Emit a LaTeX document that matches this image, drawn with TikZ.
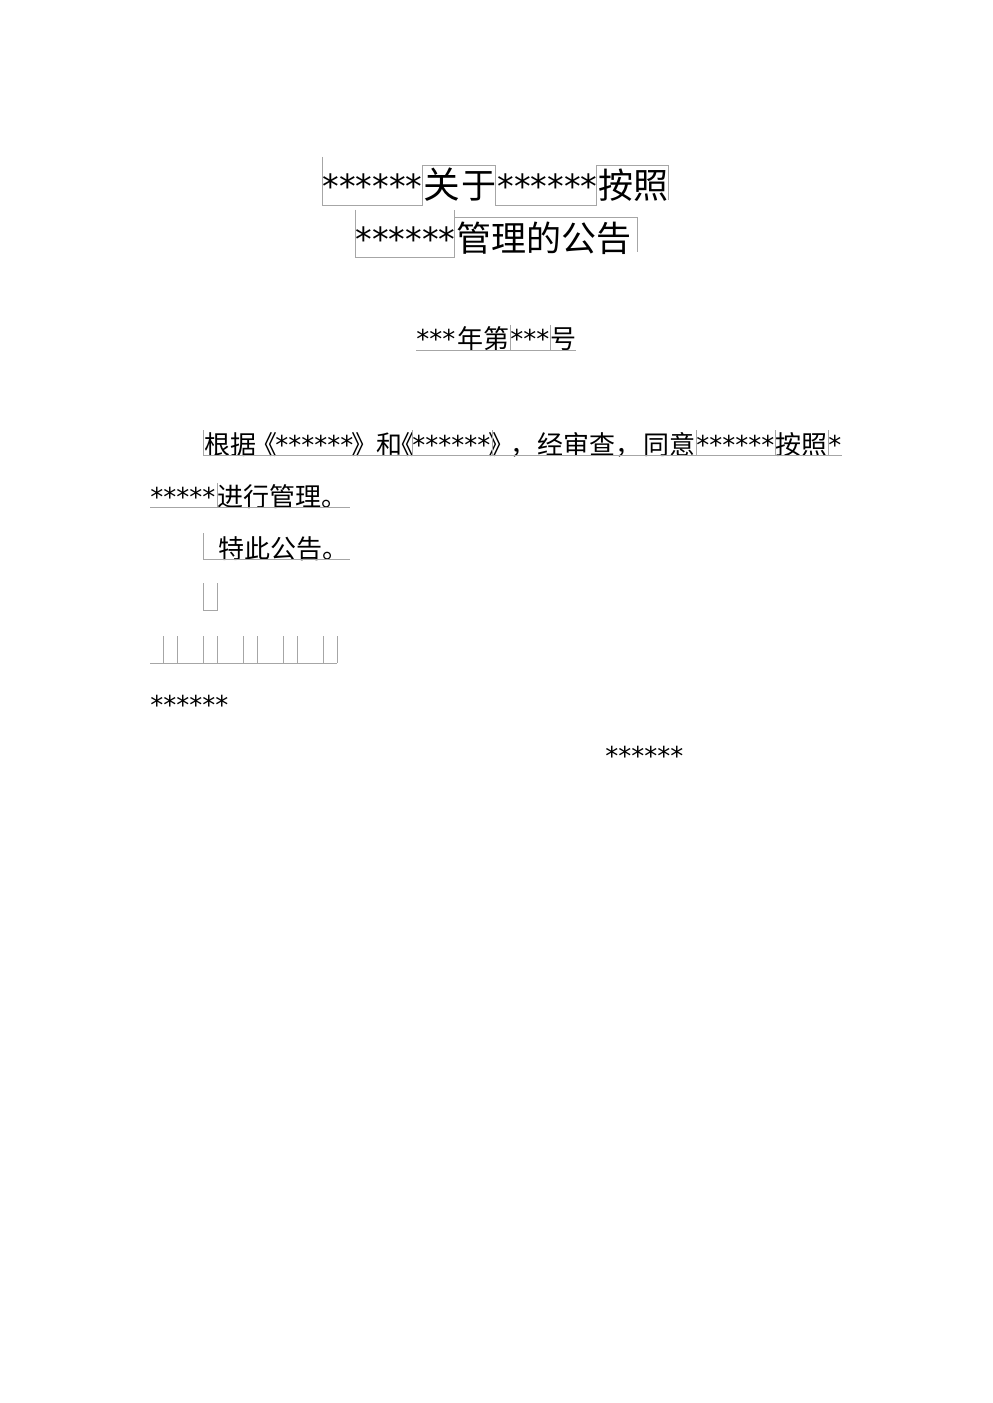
\documentclass[tikz,border=0pt]{standalone}
\usepackage{fontspec}
\setmainfont{DejaVu Sans}
\newfontfamily\cjk{Noto Sans CJK SC}
\newcommand\headsz{\fontsize{20pt}{24pt}\selectfont}
\newcommand\bodysz{\fontsize{15.6pt}{18pt}\selectfont}
\begin{document}
\begin{tikzpicture}
[x=0.6pt,y=-0.6pt,every node/.style={inner sep=0,anchor=base west,font=\bodysz},
 fld/.style={draw=black!35,line width=0.5pt}]
   \useasboundingbox[fill=white] (0,0) rectangle (992,1403);
   \node[font=\headsz] (h_1) at (322,199) {******};
   \node[font=\fontsize{22pt}{24pt}\selectfont\cjk] (h_2) at (423,199) {关};
   \node[font=\fontsize{21pt}{24pt}\selectfont\cjk] (h_3) at (461,199) {于};
   \node[font=\headsz] (h_4) at (497,199) {******};
   \node[font=\fontsize{21pt}{24pt}\selectfont\cjk] (h_5) at (598,199) {按照};
   \node[font=\headsz] (h_6) at (355,252) {******};
   \node[font=\fontsize{21pt}{24pt}\selectfont\cjk] (h_7) at (456,252) {管理的公告};
   \node (n_1) at (416,349) {***};
   \node[font=\bodysz\cjk] (n_2) at (457,349) {年第};
   \node (n_3) at (510,349) {***};
   \node[font=\bodysz\cjk] (n_4) at (550,349) {号};
   \node[font=\bodysz\cjk] (p_1) at (204,454) {根据};
   \node[font=\bodysz\cjk] (p_2) at (251,454) {《};
   \node (p_3) at (275,454) {******};
   \node[font=\bodysz\cjk] (p_4) at (351,454) {》};
   \node[font=\bodysz\cjk] (p_5) at (376,454) {和};
   \node[font=\bodysz\cjk] (p_6) at (388,454) {《};
   \node (p_7) at (412,454) {******};
   \node[font=\bodysz\cjk] (p_8) at (488,454) {》};
   \node[font=\bodysz\cjk] (p_9) at (510,454) {，};
   \node[font=\bodysz\cjk] (p_10) at (537,454) {经审查};
   \node[font=\bodysz\cjk] (p_11) at (615,454) {，};
   \node[font=\bodysz\cjk] (p_12) at (643,454) {同意};
   \node (p_13) at (696,454) {******};
   \node[font=\bodysz\cjk] (p_14) at (775,454) {按照};
   \node (p_15) at (828,454) {*};
   \node (p_16) at (150,506) {*****};
   \node[font=\bodysz\cjk] (p_17) at (217,506) {进行管理。};
   \node[font=\bodysz\cjk] (s_1) at (218,558) {特此公告。};
   \node (s_2) at (150,714) {******};
   \node (s_3) at (605,765) {******};
   \draw[fld] (322,157) -- (322,205) -- (422,205) -- (422,165) -- (495,165) -- (495,205)
     -- (596,205) -- (596,165) -- (668,165) -- (668,200);
   \draw[fld] (355,210) -- (355,257) -- (454,257) -- (454,210);
   \draw[fld] (454,217) -- (637,217) -- (637,252);
   \draw[fld] (416,350) -- (576,350) (510,325) -- (510,350) (550,325) -- (550,350);
   \draw[fld] (203,430) -- (203,455) -- (842,455);
   \foreach \x in {412,492,696,775,828}
     \draw[fld] (\x,430) -- (\x,455);
   \draw[fld] (150,507) -- (350,507) (217,483) -- (217,507);
   \draw[fld] (203,533) -- (203,559) -- (350,559);
   \draw[fld] (203,583) -- (203,610) -- (217,610) -- (217,583);
   \draw[fld] (150,663) -- (337,663);
   \foreach \x in {163,177,203,217,243,257,283,297,323,337}
     \draw[fld] (\x,636) -- (\x,663);
\end{tikzpicture}
\end{document}
